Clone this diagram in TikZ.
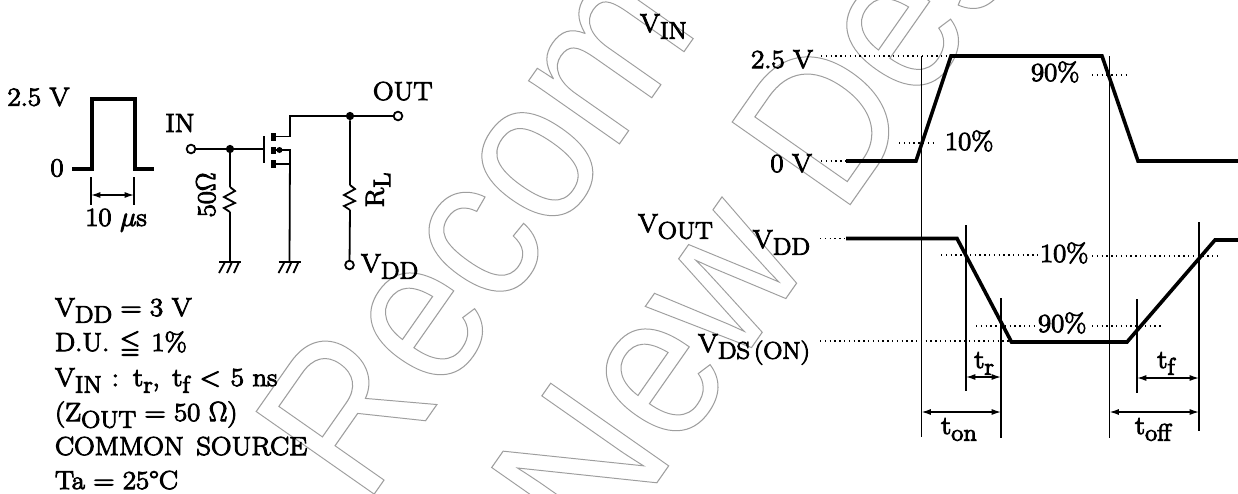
\documentclass[tikz,border=0pt]{standalone}
\usepackage{amssymb}
\usepackage{fontspec}
\setmainfont{Latin Modern Roman}[FakeStretch=1.1]
\newfontfamily\wmfont{Liberation Sans}
\usetikzlibrary{arrows.meta}
\definecolor{wmgray}{gray}{0.62}
\newcommand{\sbx}[1]{\raisebox{-5pt}{\fontsize{18}{19}\selectfont #1}}
\newcommand{\wmtext}[1]{\wmfont\fontsize{157}{160}\selectfont\scalebox{0.88}[1]{\special{pdf:code 1 Tr 0.8 w}#1\special{pdf:code 0 Tr}}}
\tikzset{
  lbl/.style={inner sep=0pt,outer sep=0pt,font=\fontsize{19.5}{21}\selectfont\special{pdf:code 2 Tr 0.75 w},text=black},
  wm/.style={inner sep=0pt,outer sep=0pt,anchor=base west,rotate=55,text=wmgray},
  thin line/.style={line width=1.0pt},
  wire/.style={line width=1.35pt},
  heavy/.style={line width=2.7pt,line join=miter},
  dots/.style={line width=1.1pt,dash pattern=on 1pt off 2.6pt},
  dimline/.style={line width=1pt,{Latex[length=7pt,width=4.5pt]}-{Latex[length=7pt,width=4.5pt]}},
  term/.style={circle,draw,line width=1.35pt,fill=white,minimum size=6.5pt,inner sep=0pt},
  junc/.style={circle,fill=black,minimum size=6.2pt,inner sep=0pt},
  gate seg/.style={line width=3.6pt},
  pics/zig/.style={code={\draw[wire,line join=miter] (0,0)--(5,4)--(-6,10)--(5,16)--(-6,21)--(0,25);}},
  pics/gnd/.style={code={\draw[wire] (-11,0)--(11,0);
    \draw[wire] (-5,0)--(-11,11) (2,0)--(-3,11) (9,0)--(4,11);}}
}
\begin{document}
\begin{tikzpicture}[x=0.75pt,y=-0.75pt]
\useasboundingbox (0,0) rectangle (1238,493);
\fill[white] (0,0) rectangle (1238,493);
% watermark
\begin{scope}
\clip (0,0) rectangle (1238,493);
\node[wm] (wmA) at (365.5,506.5) {\wmtext{Recom}};
\node[wm] (wmB) at (601,562.5) {\wmtext{New}};
\node[wm] (wmC) at (841.5,217) {\wmtext{Des}};
\end{scope}
% input pulse
\draw[heavy] (72,169)--(92,169)--(92,99)--(135,99)--(135,169)--(154,169);
\node[lbl] (p25) at (38.5,97) {2.5 V};
\node[lbl] (p0) at (57,168) {0};
\coordinate (pa) at (91,177); \coordinate (pa2) at (91,205);
\coordinate (pb) at (134,177); \coordinate (pb2) at (134,205);
\draw[thin line] (pa)--(pa2) (pb)--(pb2);
\coordinate (pm1) at (91,195); \coordinate (pm2) at (134,195);
\draw[dimline] (pm1)--(pm2);
\node[lbl] (p10) at (116,220) {10 $\mu$s};
% circuit
\node[lbl] (lin) at (180,123) {IN};
\node[term] (tin) at (191,149) {};
\node[junc] (j1) at (230,149) {};
\coordinate (gate) at (264,149);
\draw[wire] (tin)--(j1)--(gate);
\draw[wire] (264,136)--(264,163);
\draw[gate seg] (273.5,133)--(273.5,140.5) (273.5,147)--(273.5,153.5) (273.5,160)--(273.5,168);
\coordinate (dr0) at (276,136.5); \coordinate (dr1) at (290,136.5); \coordinate (dr2) at (290,116);
\node[junc] (j2) at (350,116) {};
\node[term] (tout) at (398,116) {};
\draw[wire,line join=miter] (dr0)--(dr1)--(dr2)--(j2)--(tout);
\coordinate (s0) at (276,150); \coordinate (s1) at (290,150);
\coordinate (b0) at (276,164); \coordinate (b1) at (290,164);
\coordinate (g2) at (289.5,262);
\draw[wire,line join=miter] (s0)--(s1)--(g2) (b0)--(b1);
\fill (279.5,150) circle (3);
% 50 ohm
\coordinate (r1a) at (230,187); \coordinate (r1b) at (230,212); \coordinate (g1) at (230,262);
\draw[wire] (j1)--(r1a) (r1b)--(g1);
\pic at (r1a) {zig};
\pic at (g1) {gnd};
\pic at (g2) {gnd};
\node[lbl,rotate=90] (l50) at (206,195) {50$\Omega$};
% load
\coordinate (r2a) at (350,185); \coordinate (r2b) at (350,210);
\node[term] (tvdd) at (349.5,265) {};
\draw[wire] (j2)--(r2a) (r2b)--(tvdd);
\pic at (r2a) {zig};
\node[lbl,rotate=90] (lrl) at (378,190) {R\sbx{L}};
\node[lbl,anchor=base west] (lvdd) at (361,272) {V\sbx{DD}};
\node[lbl,anchor=base west] (lout) at (373,100) {OUT};
% conditions
\node[lbl,anchor=base west] (c1) at (55,316) {V\sbx{DD} = 3 V};
\node[lbl,anchor=base west] (c2) at (55,351) {D.U.\hspace{1.5pt} $\leqq$\hspace{2pt} 1\%};
\node[lbl,anchor=base west] (c3) at (55,386) {V\sbx{IN}\hspace{1pt} :\hspace{2pt} t\sbx{r},\hspace{3pt} t\sbx{f}\hspace{1pt} $<$\hspace{1pt} 5 ns};
\node[lbl,anchor=base west] (c4) at (55,421) {(Z\sbx{OUT} = 50 $\Omega$)};
\node[lbl,anchor=base west] (c5) at (55,455) {COMMON\hspace{3pt} SOURCE};
\node[lbl,anchor=base west] (c6) at (55,489) {Ta = 25\textdegree C};
% right: waveforms
\draw[heavy] (846,161)--(916,161)--(951,56)--(1102,56)--(1138,161)--(1238,161);
\draw[heavy] (846,238.5)--(957,238.5)--(1011.5,342)--(1127,342)--(1215,240)--(1238,240);
% dotted levels
\draw[dots] (821,56)--(951,56);
\draw[dots] (821,161)--(846,161);
\draw[dots] (899,143)--(937,143);
\draw[dots] (1092,75)--(1129,75);
\draw[dots] (820,238.5)--(846,238.5);
\draw[dots] (941,255)--(1038,255);
\draw[dots] (1092,256)--(1217,256);
\draw[dots] (976,326)--(1037,326);
\draw[dots] (1092,326)--(1163,326);
\draw[dots] (820,341)--(1011,341);
% verticals
\draw[thin line] (921.5,56)--(921.5,437);
\draw[thin line] (1109.5,56)--(1109.5,438);
\draw[thin line] (966,225)--(966,391);
\draw[thin line] (1001,298)--(1001,438);
\draw[thin line] (1137,299)--(1137,393);
\draw[thin line] (1199,222)--(1199,431);
% dims
\coordinate (tra) at (966,377); \coordinate (trb) at (1001,377);
\coordinate (tfa) at (1137,378); \coordinate (tfb) at (1199,378);
\coordinate (tna) at (921.5,412); \coordinate (tnb) at (1001,412);
\coordinate (toa) at (1109.5,412); \coordinate (tob) at (1199,412);
\draw[dimline] (tra)--(trb);
\draw[dimline] (tfa)--(tfb);
\draw[dimline] (tna)--(tnb);
\draw[dimline] (toa)--(tob);
% labels
\node[lbl,anchor=base west] (vin) at (640,32) {V\sbx{IN}};
\node[lbl,anchor=base east] (v25) at (813,68) {2.5 V};
\node[lbl,anchor=base east] (v0) at (812,172) {0 V};
\node[lbl,anchor=base west] (p10a) at (945,150) {10\%};
\node[lbl,anchor=base west] (p90a) at (1031,81) {90\%};
\node[lbl,anchor=base west] (vout) at (638,232) {V\sbx{OUT}};
\node[lbl,anchor=base east] (vdd) at (810,248) {V\sbx{DD}};
\node[lbl,anchor=base west] (p10b) at (1040,262) {10\%};
\node[lbl,anchor=base west] (p90b) at (1038,332) {90\%};
\node[lbl,anchor=base east] (vds) at (810,352) {V\sbx{DS\,(ON)}};
\node[lbl,anchor=base] (ltr) at (984,368) {t\sbx{r}};
\node[lbl,anchor=base] (ltf) at (1166,368) {t\sbx{f}};
\node[lbl,anchor=base] (lton) at (959,434) {t\sbx{on}};
\node[lbl,anchor=base] (ltoff) at (1153,434) {t\sbx{off}};
\end{tikzpicture}
\end{document}
